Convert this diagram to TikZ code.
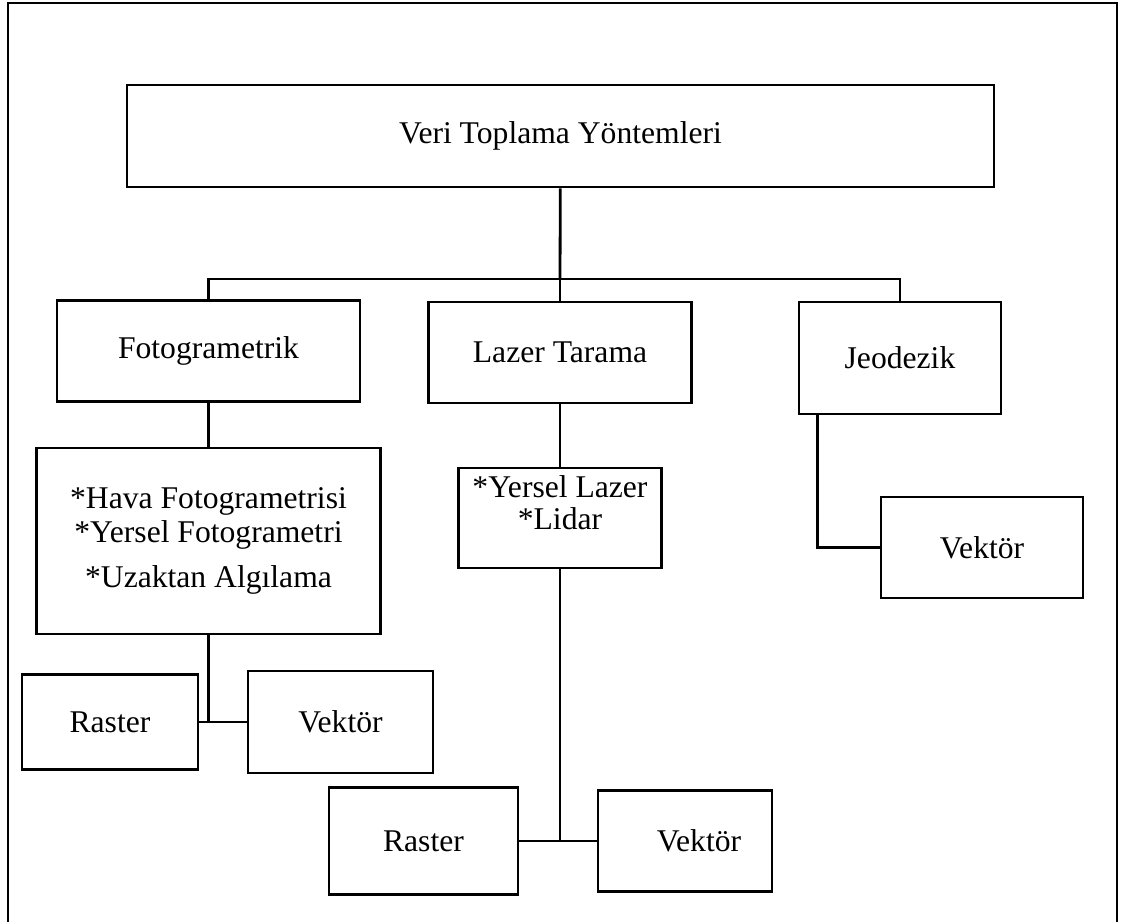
\documentclass[tikz,border=0pt]{standalone}
\usepackage{fontspec}
\setmainfont{Liberation Serif}
\usepackage{tikz}

\begin{document}
\begin{tikzpicture}[x=0.02cm, y=-0.02cm, line width=1.6pt,
  kutu/.style={draw, line width=1.6pt, inner sep=2pt, align=center, font=\fontsize{18pt}{19.3pt}\selectfont},
  yazi/.style={inner sep=0pt, align=center, font=\fontsize{18pt}{18.2pt}\selectfont}]
\useasboundingbox (0,0) rectangle (1122,921);
\draw (8,935) -- (8,3) -- (1117,3) -- (1117,935);

\node (1) [kutu, minimum width=17.34cm, minimum height=2.04cm] at (560.5,136) {Veri Toplama Yöntemleri};
\node (2) [kutu, minimum width=6.06cm, minimum height=2.02cm] at (208.5,351) {Fotogrametrik};
\node (3) [kutu, minimum width=5.26cm, minimum height=2.02cm] at (560,352.5) {Lazer Tarama};
\node (4) [kutu, minimum width=4.04cm, minimum height=2.24cm] at (900,358) {Jeodezik};
\node (5) [kutu, minimum width=6.88cm, minimum height=3.72cm] at (208.5,541) {*Hava Fotogrametrisi\\*Yersel Fotogrametri\\[6.8pt]*Uzaktan Algılama};
\node (6) [kutu, minimum width=4.06cm, minimum height=2cm] at (560,518) {};
\node (6t) [yazi] at (560,503) {*Yersel Lazer\\*Lidar};
\node (7) [kutu, minimum width=4.04cm, minimum height=2.02cm] at (982,547.5) {Vektör};
\node (8) [kutu, minimum width=3.52cm, minimum height=1.9cm] at (110,722) {Raster};
\node (9) [kutu, minimum width=3.7cm, minimum height=2.04cm] at (340.5,722) {Vektör};
\node (10) [kutu, minimum width=3.78cm, minimum height=2.14cm] at (423.5,841) {Raster};
\node (11) [kutu, minimum width=3.48cm, minimum height=2.02cm] at (685,841) {};
\node (11t) [yazi] at (699,841) {Vektör};

\coordinate (bar) at (560,279);
\coordinate (f) at (208.5,722);
\coordinate (l) at (560,841);

\draw (1) -- (bar);
\draw (bar) -| (2); \draw (bar) -- (3); \draw (bar) -| (4);
\draw (2) -- (5); \draw (5) -- (f); \draw (8) -- (9);
\draw (3) -- (6); \draw (6) -- (l); \draw (10) -- (11);
\draw ([xshift=0.4cm]4.south west) |- (7);

\end{tikzpicture}
\end{document}
